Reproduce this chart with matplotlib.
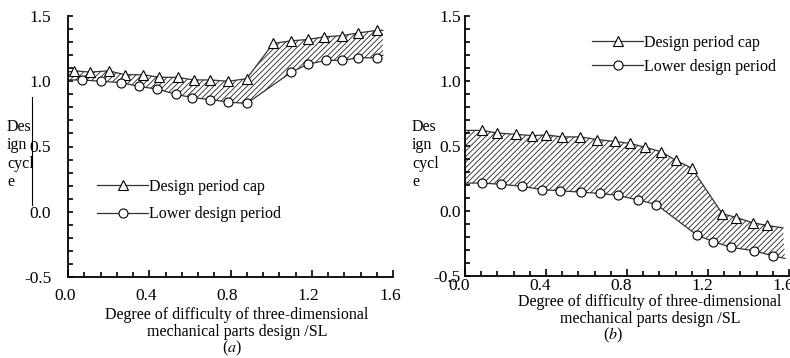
#data handling
import numpy as np

#plots
import matplotlib
matplotlib.use('Agg')
import matplotlib.pyplot as plt
from matplotlib.ticker import MultipleLocator, FormatStrFormatter
from matplotlib.transforms import ScaledTranslation
from matplotlib.lines import Line2D

plt.rcParams['font.family'] = 'Liberation Serif'
plt.rcParams['mathtext.fontset'] = 'stix'
plt.rcParams['axes.unicode_minus'] = False
plt.rcParams['hatch.linewidth'] = 0.6

# panel (a)
cap_x_a = [0.03, 0.11, 0.20, 0.28, 0.37, 0.45, 0.54, 0.62, 0.70, 0.79, 0.88,
           1.01, 1.10, 1.18, 1.26, 1.35, 1.43, 1.52]
cap_y_a = [1.08, 1.07, 1.08, 1.05, 1.05, 1.03, 1.03, 1.01, 1.01, 1.00, 1.02,
           1.29, 1.31, 1.32, 1.34, 1.35, 1.37, 1.39]
cap_ends_a = [(0.0, 1.07), (1.55, 1.39)]
low_x_a = [0.07, 0.16, 0.26, 0.35, 0.44, 0.53, 0.61, 0.70, 0.79, 0.88,
           1.10, 1.18, 1.27, 1.35, 1.43, 1.52]
low_y_a = [1.01, 1.00, 0.99, 0.96, 0.94, 0.90, 0.875, 0.86, 0.84, 0.83,
           1.07, 1.13, 1.16, 1.16, 1.18, 1.18]
low_ends_a = [(0.0, 1.01), (1.55, 1.20)]

# panel (b)
cap_x_b = [0.085, 0.16, 0.25, 0.33, 0.40, 0.48, 0.57, 0.65, 0.74, 0.815, 0.89,
           0.97, 1.04, 1.12, 1.27, 1.34, 1.42, 1.49]
cap_y_b = [0.62, 0.60, 0.59, 0.58, 0.585, 0.57, 0.57, 0.55, 0.535, 0.52, 0.49,
           0.455, 0.39, 0.33, -0.02, -0.05, -0.09, -0.11]
cap_ends_b = [(0.0, 0.62), (1.57, -0.13)]
low_x_b = [0.085, 0.18, 0.28, 0.38, 0.47, 0.575, 0.665, 0.755, 0.855, 0.945,
           1.145, 1.225, 1.315, 1.425, 1.52]
low_y_b = [0.215, 0.205, 0.19, 0.165, 0.155, 0.145, 0.135, 0.12, 0.085, 0.05,
           -0.185, -0.235, -0.28, -0.305, -0.345]
low_ends_b = [(0.0, 0.215), (1.58, -0.365)]

cap_label = 'Design period cap'
low_label = 'Lower design period'
xlabel_text = 'Degree of difficulty of three-dimensional\nmechanical parts design /SL'
ylabel_text = 'Des\nign\ncycl\ne'

FS = 11.5
TICK_FS = 12.5
line_col = '#333333'


def full_line(xs, ys, ends):
    x = [ends[0][0]] + list(xs) + [ends[1][0]]
    y = [ends[0][1]] + list(ys) + [ends[1][1]]
    return np.array(x), np.array(y)


def draw_panel(ax, cap, low, xpad, ypad, xshift):
    ux, uy = full_line(*cap)
    lx, ly = full_line(*low)
    # hatched band between the two curves
    ax.fill(np.concatenate([ux, lx[::-1]]), np.concatenate([uy, ly[::-1]]),
            facecolor='none', edgecolor='#222222', hatch='//////', linewidth=0)
    ax.plot(ux, uy, color=line_col, lw=0.9, marker='^', markevery=slice(1, -1),
            ms=6.5, mfc='white', mec='black', mew=0.8, label=cap_label)
    ax.plot(lx, ly, color=line_col, lw=0.9, marker='o', markevery=slice(1, -1),
            ms=6.5, mfc='white', mec='black', mew=0.8, label=low_label)

    ax.set_xlim(0, 1.6)
    ax.set_ylim(-0.5, 1.5)
    ax.xaxis.set_major_locator(MultipleLocator(0.4))
    ax.xaxis.set_minor_locator(MultipleLocator(0.08))
    ax.yaxis.set_major_locator(MultipleLocator(0.5))
    ax.yaxis.set_minor_locator(MultipleLocator(0.1))
    ax.xaxis.set_major_formatter(FormatStrFormatter('%.1f'))
    ax.yaxis.set_major_formatter(FormatStrFormatter('%.1f'))
    for s in ['top', 'right']:
        ax.spines[s].set_visible(False)
    for s in ['left', 'bottom']:
        ax.spines[s].set_linewidth(1.3)
    ax.tick_params(axis='x', which='major', direction='in', length=5, width=1.2,
                   labelsize=TICK_FS, pad=xpad)
    ax.tick_params(axis='x', which='minor', direction='in', length=3.5, width=1.2)
    ax.tick_params(axis='y', which='both', direction='in', length=3.8, width=1.2,
                   labelsize=TICK_FS, pad=ypad)
    off = ScaledTranslation(xshift / 100, 0, ax.figure.dpi_scale_trans)
    for lab in ax.get_xticklabels():
        lab.set_transform(lab.get_transform() + off)
    ax.patch.set_visible(False)


fig = plt.figure(figsize=(7.9, 3.58), dpi=100)
W, H = 790, 358
ax_a = fig.add_axes([68 / W, (H - 277) / H, 325 / W, 261 / H])
ax_b = fig.add_axes([465 / W, (H - 276) / H, 324 / W, 260 / H])

draw_panel(ax_a, (cap_x_a, cap_y_a, cap_ends_a), (low_x_a, low_y_a, low_ends_a),
           xpad=8, ypad=12, xshift=-3)
draw_panel(ax_b, (cap_x_b, cap_y_b, cap_ends_b), (low_x_b, low_y_b, low_ends_b),
           xpad=1.5, ypad=3, xshift=-6)

# legends
ax_a.legend(loc='upper left', bbox_to_anchor=(97 / W, 1 - 179 / H),
            bbox_transform=fig.transFigure, frameon=False, fontsize=FS,
            handlelength=3.2, handletextpad=0.05, labelspacing=0.72,
            borderpad=0, borderaxespad=0, numpoints=1)
ax_b.legend(loc='upper left', bbox_to_anchor=(592 / W, 1 - 35 / H),
            bbox_transform=fig.transFigure, frameon=False, fontsize=FS,
            handlelength=3.2, handletextpad=0.05, labelspacing=0.47,
            borderpad=0, borderaxespad=0, numpoints=1)

# axis titles as placed in the picture
fig.text(7 / W, 1 - 119 / H, ylabel_text, fontsize=FS, va='top', ha='left',
         linespacing=1.2)
fig.text(412 / W, 1 - 119 / H, ylabel_text, fontsize=FS, va='top', ha='left',
         linespacing=1.2)
fig.add_artist(Line2D([32 / W, 32 / W], [1 - 97 / H, 1 - 205 / H],
                      transform=fig.transFigure, color='black', lw=0.8))

fig.text(237 / W, 1 - 307 / H, xlabel_text, fontsize=FS, ha='center', va='top',
         linespacing=1.05)
fig.text(232 / W, 1 - 348 / H, '($a$)', fontsize=FS, ha='center', va='center')
fig.text(650 / W, 1 - 294 / H, xlabel_text, fontsize=FS, ha='center', va='top',
         linespacing=1.05)
fig.text(613 / W, 1 - 335 / H, '($b$)', fontsize=FS, ha='center', va='center')

fig.savefig('out.png', dpi=100)
